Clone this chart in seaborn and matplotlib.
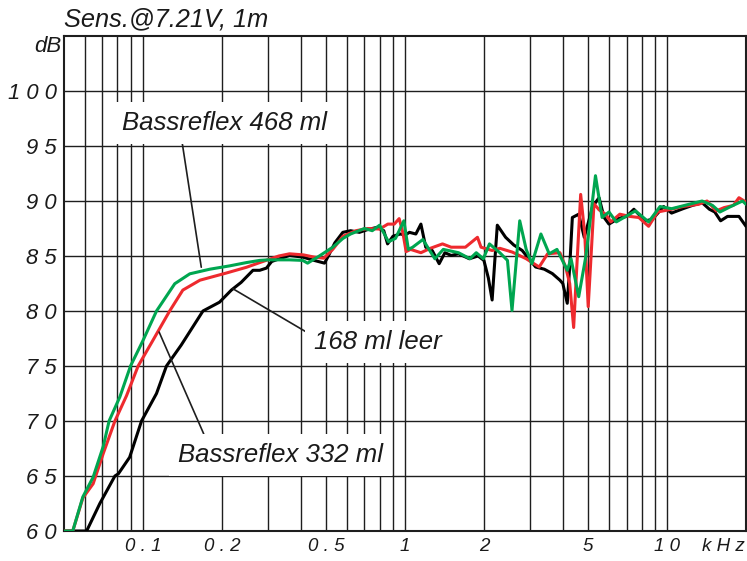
import matplotlib.pyplot as plt
import seaborn as sns

# frequency response of the three enclosures (kHz / dB)
freq_leer = [0.05, 0.061, 0.0685, 0.0782, 0.0806, 0.089, 0.0988, 0.1127, 0.123, 0.140, 0.1695,
             0.196, 0.2175, 0.237, 0.263, 0.279, 0.296, 0.31, 0.323, 0.3625, 0.407, 0.45, 0.493,
             0.51, 0.54, 0.579, 0.62, 0.67, 0.72, 0.78, 0.83, 0.858, 0.9, 0.96, 1.0, 1.04, 1.1,
             1.15, 1.2, 1.27, 1.35, 1.42, 1.5, 1.6, 1.76, 1.9, 2.0, 2.08, 2.15, 2.2, 2.25, 2.42,
             2.6, 2.8, 3.15, 3.4, 3.65, 3.9, 4.0, 4.16, 4.25, 4.35, 4.6, 4.83, 5.0, 5.2, 5.5,
             5.75, 6.0, 6.5, 7.0, 7.47, 8.0, 8.3, 8.8, 9.7, 10.4, 11.5, 12.5, 13.6, 14.5, 15.2,
             16.0, 17.0, 18.8, 20.0]
db_leer = [60, 60, 62.5, 65.0, 65.2, 66.7, 70.0, 72.5, 75.0, 76.9, 80.0,
           80.8, 81.9, 82.6, 83.7, 83.7, 83.9, 84.5, 84.65, 85.05, 84.9, 84.6, 84.35,
           85.0, 86.2, 87.15, 87.3, 87.15, 87.4, 87.6, 87.3, 86.1, 86.8, 87.0, 86.9, 87.15, 87.0,
           87.9, 85.8, 85.5, 84.3, 85.3, 85.05, 85.2, 84.75, 85.0, 84.6, 83.0, 81.0, 84.5, 87.8, 86.7,
           86.0, 85.5, 84.0, 83.8, 83.4, 82.8, 82.5, 80.7, 84.0, 88.5, 88.8, 86.7, 88.0, 89.5, 90.3,
           88.5, 87.9, 88.4, 88.6, 89.25, 88.5, 88.2, 88.35, 89.5, 88.9, 89.3, 89.6, 89.85, 89.25, 89.0,
           88.2, 88.6, 88.6, 87.7]

freq_br332 = [0.05, 0.054, 0.059, 0.0646, 0.0706, 0.0782, 0.0866, 0.0959, 0.109, 0.1265, 0.142,
              0.165, 0.208, 0.248, 0.279, 0.33, 0.3625, 0.41, 0.45, 0.49, 0.53, 0.58, 0.65, 0.72,
              0.80, 0.86, 0.91, 0.95, 0.98, 1.01, 1.05, 1.15, 1.25, 1.39, 1.5, 1.7, 1.89, 1.95,
              2.15, 2.3, 2.57, 2.9, 3.25, 3.5, 3.9, 4.1, 4.25, 4.4, 4.5, 4.68, 4.85, 5.0, 5.1,
              5.26, 5.5, 5.82, 6.1, 6.6, 7.2, 7.8, 8.5, 9.2, 10.4, 11.5, 13.2, 14.2, 15.4, 16.5,
              17.9, 18.8, 20.0]
db_br332 = [60, 60, 63.0, 64.3, 67.05, 70.0, 72.3, 75.0, 77.3, 80.0, 81.9,
            82.8, 83.45, 83.97, 84.4, 85.0, 85.2, 85.1, 84.9, 84.8, 85.6, 86.8, 87.3, 87.5,
            87.45, 87.9, 87.9, 88.4, 87.2, 85.4, 85.6, 85.3, 85.7, 86.1, 85.8, 85.8, 86.7, 85.8,
            85.5, 85.7, 85.35, 84.75, 84.0, 85.2, 85.3, 84.0, 82.5, 78.5, 83.0, 90.6, 87.0, 80.4, 84.0,
            89.75, 89.2, 88.8, 88.1, 88.8, 88.6, 88.5, 87.7, 89.0, 89.25, 89.5, 89.7, 90.0, 89.1, 89.4,
            89.6, 90.3, 89.9]

freq_br468 = [0.05, 0.054, 0.059, 0.0646, 0.0706, 0.0743, 0.0817, 0.0897, 0.1, 0.1127, 0.1323,
              0.151, 0.18, 0.214, 0.248, 0.279, 0.3, 0.3625, 0.407, 0.425, 0.471, 0.507, 0.53,
              0.58, 0.62, 0.7, 0.75, 0.8, 0.865, 0.92, 0.99, 1.03, 1.07, 1.17, 1.3, 1.4, 1.6,
              1.77, 1.87, 1.99, 2.1, 2.3, 2.46, 2.56, 2.74, 2.9, 3.05, 3.3, 3.55, 3.8, 4.16, 4.3,
              4.6, 4.9, 5.33, 5.65, 6.0, 6.4, 7.57, 8.5, 9.4, 10.4, 13.6, 14.9, 15.9, 17.5, 19.4, 20.0]
db_br468 = [60, 60, 63.1, 64.9, 67.7, 70.0, 72.2, 75.0, 77.3, 80.0, 82.48,
            83.38, 83.8, 84.1, 84.4, 84.6, 84.65, 84.65, 84.6, 84.35, 85.0, 85.5, 85.8,
            86.6, 87.0, 87.5, 87.3, 87.8, 86.3, 86.6, 88.2, 85.6, 85.8, 86.5, 84.75, 85.6, 85.3,
            84.75, 85.3, 84.75, 86.1, 85.3, 84.6, 80.05, 88.2, 85.6, 84.3, 87.0, 85.2, 85.6, 83.7, 84.75,
            81.3, 85.0, 92.3, 88.5, 89.0, 88.1, 89.1, 88.1, 89.5, 89.3, 90.0, 89.6, 89.0, 89.5, 90.0, 89.7]

x_major = [0.1, 0.2, 0.5, 1, 2, 5, 10]
x_labels = ['0 . 1', '0 . 2', '0 . 5', '1', '2', '5', '1 0']
x_minor = [0.06, 0.07, 0.08, 0.09, 0.3, 0.4, 0.6, 0.7, 0.8, 0.9, 3, 4, 6, 7, 8, 9]
y_ticks = [60, 65, 70, 75, 80, 85, 90, 95, 100]
y_labels = ['6 0', '6 5', '7 0', '7 5', '8 0', '8 5', '9 0', '9 5', '1 0 0']

sns.set_style('white')
plt.rcParams['font.family'] = ['Liberation Sans', 'DejaVu Sans']
plt.rcParams['font.style'] = 'italic'
plt.rcParams['text.color'] = '#1a1a1a'
plt.rcParams['xtick.color'] = '#1a1a1a'
plt.rcParams['ytick.color'] = '#1a1a1a'

grid_col = '#1e1e1e'
fig = plt.figure(figsize=(7.47, 5.61), dpi=100)
ax = fig.add_axes([64 / 747, 30 / 561, 682 / 747, 495 / 561])
ax.set_xscale('log')

sns.lineplot(x=freq_leer, y=db_leer, ax=ax, color='black', lw=2.2, sort=False, estimator=None, zorder=3)
sns.lineplot(x=freq_br332, y=db_br332, ax=ax, color='#ee2a2e', lw=2.2, sort=False, estimator=None, zorder=4)
sns.lineplot(x=freq_br468, y=db_br468, ax=ax, color='#00a650', lw=2.2, sort=False, estimator=None, zorder=5)

ax.set_xlim(0.05, 20)
ax.set_ylim(60, 105)
ax.set_xticks(x_major)
ax.set_xticklabels(x_labels)
ax.set_xticks(x_minor, minor=True)
ax.set_xticklabels([], minor=True)
ax.set_yticks(y_ticks)
ax.set_yticklabels(y_labels)
ax.set_xlabel('')
ax.set_ylabel('')
ax.grid(which='both', color=grid_col, lw=1.0)
ax.set_axisbelow(True)
for s in ax.spines.values():
    s.set_visible(True)
    s.set_color(grid_col)
    s.set_linewidth(1.5)
ax.tick_params(axis='both', which='both', length=0)
ax.tick_params(axis='x', labelsize=13.5, pad=5)
ax.tick_params(axis='y', labelsize=15.8, pad=5)

box = dict(boxstyle='square,pad=0.35', fc='white', ec='none')
lead = dict(arrowstyle='-', color=grid_col, lw=1.2, shrinkA=0, shrinkB=0)
ax.annotate('Bassreflex 468 ml', xy=(0.167, 83.98), xytext=(0.0829, 96.45), ha='left', va='baseline',
            fontsize=18.5, bbox=box, arrowprops=dict(lead, relpos=(0.29, 0)), zorder=6)
ax.annotate('168 ml leer', xy=(0.2206, 82.02), xytext=(0.4515, 76.58), ha='left', va='baseline',
            fontsize=18.5, bbox=box, arrowprops=dict(lead, relpos=(0, 0.7)), zorder=6)
ax.annotate('Bassreflex 332 ml', xy=(0.1153, 78.09), xytext=(0.136, 66.29), ha='left', va='baseline',
            fontsize=18.5, bbox=box, arrowprops=dict(lead, relpos=(0.145, 1)), zorder=6)

ax.annotate('Sens.@7.21V, 1m', xy=(0, 1), xycoords='axes fraction', xytext=(0, 7),
            textcoords='offset points', ha='left', va='baseline', fontsize=18.3)
ax.annotate('dB', xy=(0, 1), xycoords='axes fraction', xytext=(-2, 0),
            textcoords='offset points', ha='right', va='top', fontsize=16)
ax.annotate('k H z', xy=(1, 0), xycoords='axes fraction', xytext=(-1, -5),
            textcoords='offset points', ha='right', va='top', fontsize=13.5)

fig.savefig('out.png', dpi=100)
